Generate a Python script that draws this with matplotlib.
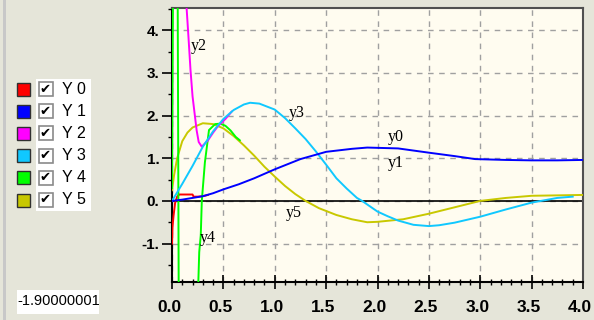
import numpy as np
import matplotlib
matplotlib.use("Agg")
import matplotlib.pyplot as plt
from matplotlib.patches import Rectangle
from matplotlib.ticker import MultipleLocator, FuncFormatter
import matplotlib.transforms as mtransforms

# series values
x0 = [0, 0.005, 0.015, 0.03, 0.05, 0.07, 0.1, 0.15, 0.2, 0.21, 0.25, 0.3, 0.35]
y0 = [-1.0, -0.6, -0.35, -0.05, 0.1, 0.15, 0.15, 0.15, 0.15, 0.1, 0.1, 0.11, 0.14]

x1 = [0, 0.1, 0.2, 0.3, 0.4, 0.5, 0.65, 0.8, 1.0, 1.25, 1.5, 1.75, 1.9, 2.2,
      2.5, 2.75, 2.95, 3.25, 3.5, 3.75, 4.0]
y1 = [0, 0.03, 0.07, 0.11, 0.18, 0.27, 0.39, 0.53, 0.74, 0.98, 1.15, 1.22, 1.25,
      1.23, 1.13, 1.05, 0.98, 0.96, 0.95, 0.95, 0.96]

x2 = [0.14, 0.16, 0.18, 0.2, 0.22, 0.24, 0.26, 0.29, 0.35, 0.4, 0.45, 0.52, 0.58]
y2 = [4.6, 3.85, 3.07, 2.45, 2.05, 1.65, 1.38, 1.27, 1.42, 1.6, 1.76, 1.92, 2.09]

x3 = [0, 0.1, 0.2, 0.3, 0.4, 0.5, 0.6, 0.7, 0.76, 0.85, 1.0, 1.1, 1.2, 1.3, 1.4,
      1.5, 1.6, 1.7, 1.8, 1.85, 2.0, 2.1, 2.2, 2.35, 2.5, 2.6, 2.75, 3.0, 3.25,
      3.5, 3.75, 3.9]
y3 = [0, 0.4, 0.82, 1.27, 1.63, 1.92, 2.13, 2.26, 2.3, 2.28, 2.14, 1.94, 1.7,
      1.45, 1.16, 0.85, 0.53, 0.29, 0.07, 0.0, -0.25, -0.36, -0.46, -0.56,
      -0.59, -0.57, -0.51, -0.37, -0.2, -0.04, 0.07, 0.1]

x4 = [0, 0.01, 0.055, 0.065, 0.255, 0.265, 0.28, 0.29, 0.32, 0.36, 0.42, 0.47,
      0.52, 0.57, 0.62, 0.66]
y4 = [0.3, 5.0, 5.0, -2.0, -2.0, -1.2, -0.8, 0.0, 0.9, 1.66, 1.8, 1.81, 1.76,
      1.65, 1.5, 1.42]

x5 = [0, 0.02, 0.05, 0.1, 0.15, 0.2, 0.3, 0.4, 0.5, 0.6, 0.7, 0.8, 0.9, 1.0,
      1.1, 1.2, 1.3, 1.43, 1.6, 1.75, 1.9, 2.0, 2.25, 2.5, 2.75, 3.0, 3.25, 3.5,
      3.75, 4.0]
y5 = [0.25, 0.6, 1.0, 1.4, 1.6, 1.72, 1.82, 1.8, 1.7, 1.52, 1.3, 1.06, 0.8,
      0.57, 0.35, 0.16, 0.0, -0.17, -0.33, -0.43, -0.5, -0.49, -0.43, -0.3,
      -0.15, 0.0, 0.07, 0.12, 0.13, 0.14]

names = ["Y 0", "Y 1", "Y 2", "Y 3", "Y 4", "Y 5"]
colors = ["#ff0000", "#0000ff", "#ff00ff", "#10c8ff", "#00ff00", "#c8c800"]
labels = ["y0", "y1", "y2", "y3", "y4", "y5"]
label_pos = [(2.1, 1.5), (2.1, 0.89), (0.18, 3.63), (1.14, 2.05), (0.27, -0.87), (1.11, -0.28)]
ymin_value = -1.90000001

fig = plt.figure(figsize=(5.94, 3.2), dpi=100, facecolor="#e5e5d9")
ax = fig.add_axes([172 / 594, 38 / 320, 411 / 594, 274 / 320])
ax.set_facecolor("#fffcf0")

ax.set_xlim(0, 4.0)
ax.set_ylim(-1.9, 4.52)

ax.xaxis.set_major_locator(MultipleLocator(0.5))
ax.xaxis.set_minor_locator(MultipleLocator(0.1))
ax.yaxis.set_major_locator(MultipleLocator(1))
ax.yaxis.set_minor_locator(MultipleLocator(0.5))
ax.xaxis.set_major_formatter(FuncFormatter(lambda v, p: "%.1f" % v))
ax.yaxis.set_major_formatter(FuncFormatter(lambda v, p: "%d." % round(v)))

ax.grid(True, which="major", color="#a0a0a0", linestyle=(0, (4, 4)), linewidth=1)
ax.axhline(0, color="black", linewidth=1.2, zorder=2)

ax.tick_params(axis="x", which="major", direction="inout", length=10, width=1.2, pad=8)
ax.tick_params(axis="x", which="minor", direction="inout", length=5, width=1)
ax.tick_params(axis="y", which="major", direction="out", length=7, width=1.2, pad=2)
ax.tick_params(axis="y", which="minor", direction="out", length=3, width=1)
shift = mtransforms.ScaledTranslation(-3 / 100, 0, fig.dpi_scale_trans)
for t in ax.get_xticklabels():
    t.set_fontfamily("Liberation Sans")
    t.set_fontweight("bold")
    t.set_fontsize(12.5)
    t.set_transform(t.get_transform() + shift)
for t in ax.get_yticklabels():
    t.set_fontfamily("Liberation Sans")
    t.set_fontweight("bold")
    t.set_fontsize(11)

ax.spines["left"].set_linewidth(1.5)
ax.spines["bottom"].set_linewidth(1.5)
ax.spines["top"].set_color("#505050")
ax.spines["right"].set_color("#505050")
ax.spines["top"].set_linewidth(1.5)
ax.spines["right"].set_linewidth(1.5)

ax.plot(x0, y0, color=colors[0], linewidth=1.4, zorder=3)
ax.plot(x5, y5, color=colors[5], linewidth=1.4, zorder=3)
ax.plot(x4, y4, color=colors[4], linewidth=1.4, zorder=3)
ax.plot(x2, y2, color=colors[2], linewidth=1.4, zorder=3)
ax.plot(x3, y3, color=colors[3], linewidth=1.4, zorder=3)
ax.plot(x1, y1, color=colors[1], linewidth=1.4, zorder=3)

for lab, (lx, ly) in zip(labels, label_pos):
    ax.text(lx, ly, lab, fontfamily="Liberation Serif", fontsize=11.5,
            va="center", ha="left", zorder=4)

# left panel: check list legend
fig.patches.append(Rectangle((3 / 594, 0), 3 / 594, 1, transform=fig.transFigure,
                             facecolor="#c8c8c8", edgecolor="none"))
fig.patches.append(Rectangle((36 / 594, 1 - 211 / 320), 55 / 594, 132 / 320,
                             transform=fig.transFigure, facecolor="white",
                             edgecolor="none"))
for i, (n, c) in enumerate(zip(names, colors)):
    yc = 89 + i * 22.2
    fig.patches.append(Rectangle((17 / 594, 1 - (yc + 6.5) / 320), 13 / 594, 13 / 320,
                                 transform=fig.transFigure, facecolor=c,
                                 edgecolor="#303030", linewidth=1))
    fig.patches.append(Rectangle((38.5 / 594, 1 - (yc + 7) / 320), 14 / 594, 14 / 320,
                                 transform=fig.transFigure, facecolor="white",
                                 edgecolor="#8a8a8a", linewidth=1.2))
    fig.text(45.5 / 594, 1 - yc / 320, "\u2714", fontfamily="DejaVu Sans",
             fontsize=9.5, ha="center", va="center")
    fig.text(62 / 594, 1 - yc / 320, n, fontfamily="Liberation Sans",
             fontsize=11.5, ha="left", va="center")

# current value box
fig.patches.append(Rectangle((17 / 594, 1 - 314 / 320), 82 / 594, 24 / 320,
                             transform=fig.transFigure, facecolor="white",
                             edgecolor="none"))
fig.text(17.5 / 594, 1 - 301 / 320, "%.8f" % ymin_value, fontfamily="Liberation Sans",
         fontsize=10.5, ha="left", va="center")

fig.savefig("out.png", dpi=100, facecolor=fig.get_facecolor())
